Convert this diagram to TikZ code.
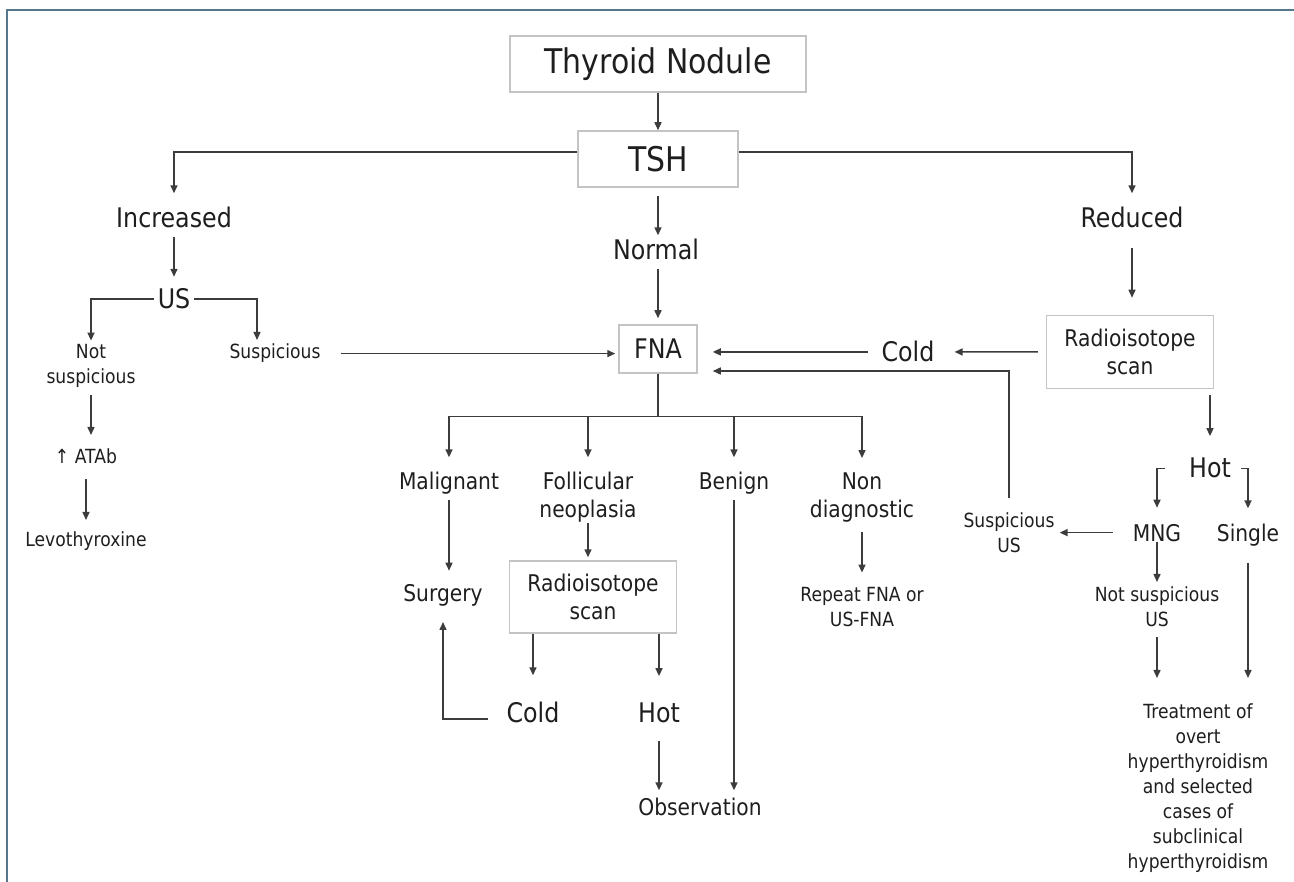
\documentclass[tikz,border=0pt]{standalone}
\usepackage{fontspec}
\setmainfont{DejaVu Sans}[FakeStretch=0.88]
\usetikzlibrary{arrows.meta}
\definecolor{lineclr}{HTML}{3C3C3C}
\definecolor{boxclr}{HTML}{C4C4C4}
\definecolor{frameclr}{HTML}{56778C}
\definecolor{txtclr}{HTML}{1E1E1E}
\tikzset{>={Triangle[length=8pt,width=7pt]},
  lbl/.style={inner sep=0pt, anchor=base, align=center, text=txtclr},
  fL/.style={font=\fontsize{34}{40}\selectfont},
  fM/.style={font=\fontsize{27}{32}\selectfont},
  fS/.style={font=\fontsize{23}{28}\selectfont},
  fXS/.style={font=\fontsize{19.5}{25}\selectfont},
  bx/.style={draw=boxclr, line width=1.5pt, align=center, text=txtclr, inner sep=0pt},
  link/.style={draw=lineclr, line width=1.5pt}}
\begin{document}
\begin{tikzpicture}[x=1pt, y=-1pt]
    \useasboundingbox (0,0) rectangle (1294,882);
    \draw[frameclr, line width=1.5pt] (7,882) -- (7,10) -- (1294,10);
    \node[bx, fL, minimum width=296pt, minimum height=56pt] (nodule) at (658,64) {Thyroid Nodule};
    \node[bx, fL, minimum width=160pt, minimum height=56pt] (tsh) at (658,159) {TSH};
    \node[bx, fM, minimum width=78pt, minimum height=48pt] (fna) at (658,349) {FNA};
    \node[bx, fS, minimum width=167pt, minimum height=73pt] (radioR) at (1130,352) {Radioisotope\\scan};
    \node[bx, fS, minimum width=167pt, minimum height=72pt] (radioL) at (593,597) {Radioisotope\\scan};
    \node[lbl, fM] (increased) at (174,228) {Increased};
    \node[lbl, fM] (reduced) at (1132,228) {Reduced};
    \node[lbl, fM] (normal) at (656,260) {Normal};
    \node[lbl, fM] (us) at (174,309) {US};
    \node[lbl, fXS] (notsusp) at (91,384) {Not\\suspicious};
    \node[lbl, fXS] (susp) at (275,359) {Suspicious};
    \node[lbl, fXS] (atab) at (86,464) {↑ ATAb};
    \node[lbl, fXS] (levo) at (86,547) {Levothyroxine};
    \node[lbl, fM] (coldR) at (908,362) {Cold};
    \node[lbl, fM] (hotR) at (1210,478) {Hot};
    \node[lbl, fS] (mng) at (1157,541) {MNG};
    \node[lbl, fS] (single) at (1248,541) {Single};
    \node[lbl, fXS] (suspus) at (1009,552) {Suspicious\\US};
    \node[lbl, fXS] (notsuspus) at (1157,626) {Not suspicious\\US};
    \node[lbl, fXS] (treat) at (1198,868) {Treatment of\\overt\\hyperthyroidism\\and selected\\cases of\\subclinical\\hyperthyroidism};
    \node[lbl, fS] (malig) at (449,490) {Malignant};
    \node[lbl, fS] (follic) at (588,518) {Follicular\\neoplasia};
    \node[lbl, fS] (benign) at (734,490) {Benign};
    \node[lbl, fS] (nondiag) at (862,518) {Non\\diagnostic};
    \node[lbl, fS] (surgery) at (443,601) {Surgery};
    \node[lbl, fM] (coldL) at (533,722) {Cold};
    \node[lbl, fM] (hotL) at (659,722) {Hot};
    \node[lbl, fS] (obs) at (700,815) {Observation};
    \node[lbl, fXS] (repeat) at (862,626) {Repeat FNA or\\US-FNA};
    \draw[link, ->] (nodule) -- (tsh);
    \draw[link, ->, shorten >=14pt] ([yshift=7pt]tsh.west) -| (increased.north);
    \draw[link, ->, shorten >=14pt] ([yshift=7pt]tsh.east) -| (reduced.north);
    \draw[link, ->, shorten <=8pt, shorten >=4pt] (tsh.south) -- (tsh.south |- normal.north);
    \draw[link, ->, shorten <=8pt, shorten >=6pt] (normal.south -| fna.north) -- (fna.north);
    \draw[link, ->, shorten <=8pt, shorten >=12pt] (increased.south) -- (us.north);
    \draw[link, ->, shorten >=4pt] ([xshift=-4pt]us.west) -| (notsusp.north);
    \draw[link, ->, shorten >=4pt] ([xshift=4pt]us.east) -| ([xshift=-18pt]susp.north);
    \draw[link, ->, shorten <=20pt, shorten >=3pt] (susp.east) -- (susp.east -| fna.west);
    \draw[link, ->, shorten <=7pt, shorten >=14pt] (notsusp.south) -- (notsusp.south |- atab.north);
    \draw[link, ->, shorten <=15pt, shorten >=12pt] (atab.south) -- (atab.south |- levo.north);
    \foreach \n in {malig,follic,benign,nondiag}
        \draw[link, ->, shorten >=15pt] (fna.south) -- ++(0,43) -| (\n.north);
    \draw[link, ->, shorten <=5pt, shorten >=13pt] (malig.south) -- (malig.south |- surgery.north);
    \draw[link, ->, shorten >=3pt] (follic.south) -- (follic.south |- radioL.north);
    \draw[link, ->, shorten >=26pt] (coldL.north |- radioL.south) -- (coldL.north);
    \draw[link, ->, shorten >=26pt] (hotL.north |- radioL.south) -- (hotL.north);
    \draw[link, ->, shorten <=18pt, shorten >=16pt] ([yshift=-7pt]coldL.west) -| (surgery.south);
    \draw[link, ->, shorten <=18pt, shorten >=7pt] (hotL.south) -- (hotL.south |- obs.north);
    \draw[link, ->, shorten <=5pt, shorten >=7pt] (benign.south) -- (benign.south |- obs.north);
    \draw[link, ->, shorten <=9pt, shorten >=14pt] (nondiag.south) -- (nondiag.south |- repeat.north);
    \draw[link, ->, shorten <=19pt, shorten >=17pt] (reduced.south) -- (reduced.south |- radioR.north);
    \draw[link, ->, shorten <=8pt, shorten >=20pt] (radioR.west) -- (coldR.east);
    \draw[link, ->, shorten <=13pt, shorten >=15pt] (coldR.west) -- (coldR.west -| fna.east);
    \draw[link, ->, shorten <=14pt, shorten >=15pt] (suspus.north) |- ([yshift=-22pt]fna.east);
    \draw[link, ->, shorten <=20pt, shorten >=5pt] (mng.west) -- (mng.west -| suspus.east);
    \draw[link, ->, shorten <=6pt, shorten >=22pt] (hotR.north |- radioR.south) -- (hotR.north);
    \draw[link, ->, shorten <=24pt, shorten >=16pt] (hotR.west) -| (mng.north);
    \draw[link, ->, shorten <=10pt, shorten >=15pt] (hotR.east) -| (single.north);
    \draw[link, ->, shorten >=4pt] (mng.south) -- (mng.south |- notsuspus.north);
    \draw[link, ->, shorten <=11pt, shorten >=25pt] (notsuspus.south) -- (notsuspus.south |- treat.north);
    \draw[link, ->, shorten <=17pt, shorten >=25pt] (single.south) -- (single.south |- treat.north);
\end{tikzpicture}
\end{document}
